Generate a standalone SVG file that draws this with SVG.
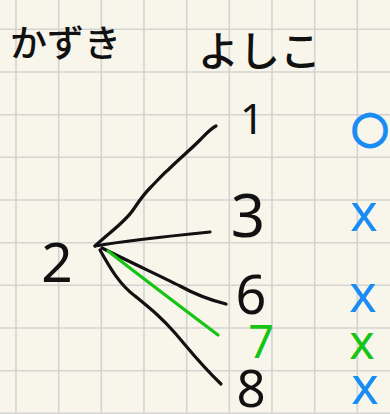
<svg xmlns="http://www.w3.org/2000/svg" width="390" height="414" viewBox="0 0 390 414">
<defs>
<style>
.grid{stroke:#d3d3d3;stroke-width:1.6}
.jp{font-family:"Noto Sans CJK JP","Noto Sans",sans-serif;fill:#111;font-weight:500}
.num{font-family:"Noto Sans","DejaVu Sans",sans-serif;fill:#111;text-anchor:middle}
.line{fill:none;stroke:#111;stroke-width:3.2;stroke-linecap:round;stroke-linejoin:round}
.gline{fill:none;stroke:#16c416;stroke-width:3.2;stroke-linecap:round}
.mark{font-family:"Noto Sans","DejaVu Sans",sans-serif;text-anchor:middle}
.blue{fill:#1a8cf5}
.green{fill:#16c416}
</style>
</defs>
<rect width="390" height="414" fill="#f8f6ea"/>
<g id="grid" class="grid">
<line x1="16" y1="0" x2="16" y2="414"/>
<line x1="58.7" y1="0" x2="58.7" y2="414"/>
<line x1="101.3" y1="0" x2="101.3" y2="414"/>
<line x1="144" y1="0" x2="144" y2="414"/>
<line x1="186.7" y1="0" x2="186.7" y2="414"/>
<line x1="229.3" y1="0" x2="229.3" y2="414"/>
<line x1="272" y1="0" x2="272" y2="414"/>
<line x1="314.7" y1="0" x2="314.7" y2="414"/>
<line x1="357.3" y1="0" x2="357.3" y2="414"/>
<line x1="0" y1="29.3" x2="390" y2="29.3"/>
<line x1="0" y1="72" x2="390" y2="72"/>
<line x1="0" y1="114.7" x2="390" y2="114.7"/>
<line x1="0" y1="157.3" x2="390" y2="157.3"/>
<line x1="0" y1="200" x2="390" y2="200"/>
<line x1="0" y1="242.7" x2="390" y2="242.7"/>
<line x1="0" y1="285.3" x2="390" y2="285.3"/>
<line x1="0" y1="328" x2="390" y2="328"/>
<line x1="0" y1="370.7" x2="390" y2="370.7"/>
<line x1="0" y1="413.3" x2="390" y2="413.3"/>
</g>
<g id="header-kazuki"><text class="jp" x="10" y="57" font-size="37">かずき</text></g>
<g id="header-yoshiko"><text class="jp" x="198" y="66" font-size="41">よしこ</text></g>
<g id="connectors">
<path class="line" d="M95,246 C110,232 125,222 133,210 C140,200 143,195 150,188 C158,180 162,175 168,170 C178,160 190,150 200,140 C206,134 210,129 216,126"/>
<path class="line" d="M95,246 C130,240 170,236 210,232"/>
<path class="line" d="M102,248 C130,262 160,276 180,286 C198,296 210,300 226,304"/>
<path class="gline" d="M108,251 C145,280 185,310 218,335"/>
<path class="line" d="M100,250 C110,268 120,285 135,296 C152,310 162,318 175,333 C188,348 200,364 221,384"/>
</g>
<g id="node-2"><text class="num" x="57" y="282" font-size="55">2</text></g>
<g id="node-1"><text class="num" x="252" y="134" font-size="42">1</text></g>
<g id="node-3"><text class="num" x="248" y="237" font-size="60">3</text></g>
<g id="node-6"><text class="num" x="251" y="314" font-size="54">6</text></g>
<g id="node-7"><text class="num green" x="261" y="358" font-size="45">7</text></g>
<g id="node-8"><text class="num" x="251" y="407" font-size="51">8</text></g>
<g id="mark-1"><text class="mark blue" x="370" y="142" font-size="44" stroke="#1a8cf5" stroke-width="2">○</text></g>
<g id="mark-3"><text class="mark blue" x="364" y="231" font-size="52">x</text></g>
<g id="mark-6"><text class="mark blue" x="363" y="312" font-size="52">x</text></g>
<g id="mark-7"><text class="mark green" x="362" y="359" font-size="48">x</text></g>
<g id="mark-8"><text class="mark blue" x="365" y="404" font-size="52">x</text></g>
</svg>
